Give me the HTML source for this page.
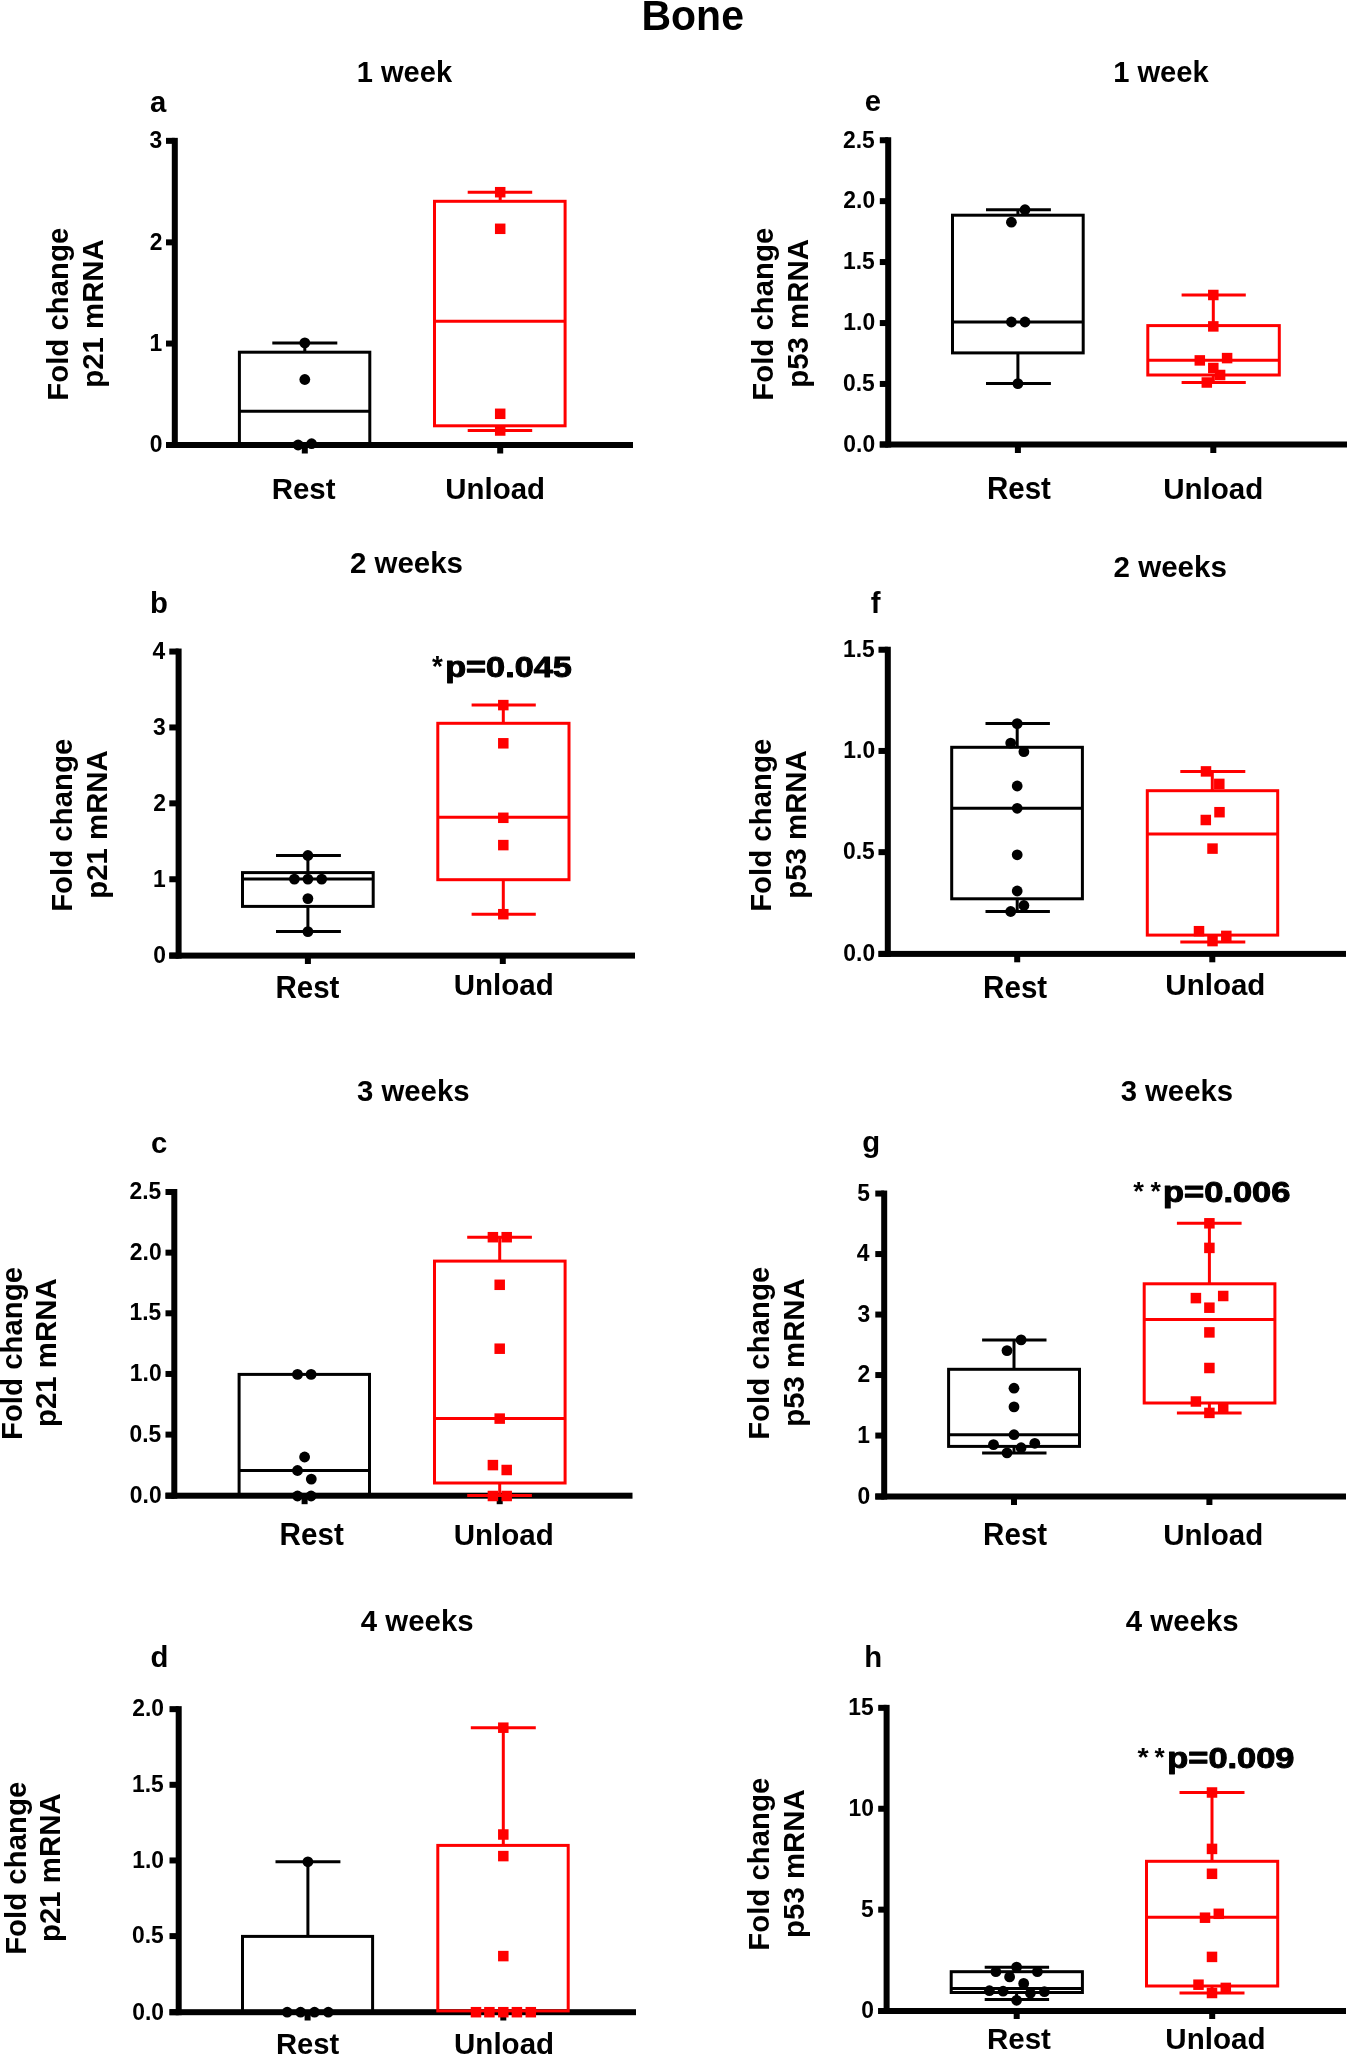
<!DOCTYPE html>
<html><head><meta charset="utf-8"><style>
html,body{margin:0;padding:0;background:#fff;overflow:hidden;}
svg{display:block;}
text{font-family:"Liberation Sans",sans-serif;font-weight:bold;font-kerning:none;}
</style></head><body>
<svg width="1347" height="2054" viewBox="0 0 1347 2054">
<rect width="1347" height="2054" fill="#fff"/>
<rect x="171.80" y="137.85" width="6.0" height="310.15" fill="#000"/>
<rect x="166.00" y="442.00" width="467.00" height="6.0" fill="#000"/>
<rect x="166.00" y="137.85" width="8.80" height="6.0" fill="#000"/>
<rect x="166.00" y="239.35" width="8.80" height="6.0" fill="#000"/>
<rect x="166.00" y="340.55" width="8.80" height="6.0" fill="#000"/>
<rect x="166.00" y="442.00" width="8.80" height="6.0" fill="#000"/>
<rect x="301.80" y="445.00" width="6.0" height="8.50" fill="#000"/>
<rect x="497.20" y="445.00" width="6.0" height="8.50" fill="#000"/>
<line x1="304.80" y1="352.20" x2="304.80" y2="342.90" stroke="#000" stroke-width="3.0" stroke-linecap="butt"/>
<line x1="272.30" y1="342.90" x2="337.30" y2="342.90" stroke="#000" stroke-width="3.0" stroke-linecap="butt"/>
<rect x="239.40" y="352.20" width="130.40" height="92.80" fill="none" stroke="#000" stroke-width="3.0"/>
<line x1="239.40" y1="411.20" x2="369.80" y2="411.20" stroke="#000" stroke-width="3.0" stroke-linecap="butt"/>
<circle cx="304.80" cy="342.90" r="5.4" fill="#000"/>
<circle cx="304.80" cy="379.50" r="5.4" fill="#000"/>
<circle cx="298.10" cy="445.00" r="5.4" fill="#000"/>
<circle cx="311.60" cy="443.70" r="5.4" fill="#000"/>
<line x1="500.20" y1="201.30" x2="500.20" y2="192.20" stroke="#ff0000" stroke-width="3.0" stroke-linecap="butt"/>
<line x1="467.70" y1="192.20" x2="532.20" y2="192.20" stroke="#ff0000" stroke-width="3.0" stroke-linecap="butt"/>
<line x1="500.20" y1="425.80" x2="500.20" y2="430.50" stroke="#ff0000" stroke-width="3.0" stroke-linecap="butt"/>
<line x1="467.70" y1="430.50" x2="532.20" y2="430.50" stroke="#ff0000" stroke-width="3.0" stroke-linecap="butt"/>
<rect x="434.50" y="201.30" width="130.60" height="224.50" fill="none" stroke="#ff0000" stroke-width="3.0"/>
<line x1="434.50" y1="321.30" x2="565.10" y2="321.30" stroke="#ff0000" stroke-width="3.0" stroke-linecap="butt"/>
<rect x="494.95" y="186.95" width="10.5" height="10.5" fill="#ff0000"/>
<rect x="494.95" y="223.55" width="10.5" height="10.5" fill="#ff0000"/>
<rect x="494.95" y="408.55" width="10.5" height="10.5" fill="#ff0000"/>
<rect x="494.95" y="425.25" width="10.5" height="10.5" fill="#ff0000"/>
<rect x="885.20" y="137.25" width="6.0" height="310.25" fill="#000"/>
<rect x="879.80" y="441.50" width="467.20" height="6.0" fill="#000"/>
<rect x="879.80" y="137.25" width="8.40" height="6.0" fill="#000"/>
<rect x="879.80" y="198.15" width="8.40" height="6.0" fill="#000"/>
<rect x="879.80" y="259.05" width="8.40" height="6.0" fill="#000"/>
<rect x="879.80" y="320.05" width="8.40" height="6.0" fill="#000"/>
<rect x="879.80" y="380.95" width="8.40" height="6.0" fill="#000"/>
<rect x="879.80" y="441.50" width="8.40" height="6.0" fill="#000"/>
<rect x="1014.90" y="444.50" width="6.0" height="8.50" fill="#000"/>
<rect x="1210.30" y="444.50" width="6.0" height="8.50" fill="#000"/>
<line x1="1017.90" y1="215.20" x2="1017.90" y2="209.70" stroke="#000" stroke-width="3.0" stroke-linecap="butt"/>
<line x1="986.00" y1="209.70" x2="1050.90" y2="209.70" stroke="#000" stroke-width="3.0" stroke-linecap="butt"/>
<line x1="1017.90" y1="352.90" x2="1017.90" y2="383.60" stroke="#000" stroke-width="3.0" stroke-linecap="butt"/>
<line x1="986.00" y1="383.60" x2="1050.90" y2="383.60" stroke="#000" stroke-width="3.0" stroke-linecap="butt"/>
<rect x="952.50" y="215.20" width="130.70" height="137.70" fill="none" stroke="#000" stroke-width="3.0"/>
<line x1="952.50" y1="322.00" x2="1083.20" y2="322.00" stroke="#000" stroke-width="3.0" stroke-linecap="butt"/>
<circle cx="1025.00" cy="209.70" r="5.4" fill="#000"/>
<circle cx="1011.40" cy="222.20" r="5.4" fill="#000"/>
<circle cx="1011.40" cy="322.00" r="5.4" fill="#000"/>
<circle cx="1025.00" cy="322.00" r="5.4" fill="#000"/>
<circle cx="1017.90" cy="383.60" r="5.4" fill="#000"/>
<line x1="1213.30" y1="325.60" x2="1213.30" y2="295.00" stroke="#ff0000" stroke-width="3.0" stroke-linecap="butt"/>
<line x1="1181.60" y1="295.00" x2="1245.80" y2="295.00" stroke="#ff0000" stroke-width="3.0" stroke-linecap="butt"/>
<line x1="1213.30" y1="375.00" x2="1213.30" y2="382.50" stroke="#ff0000" stroke-width="3.0" stroke-linecap="butt"/>
<line x1="1181.60" y1="382.50" x2="1245.80" y2="382.50" stroke="#ff0000" stroke-width="3.0" stroke-linecap="butt"/>
<rect x="1147.80" y="325.60" width="131.50" height="49.40" fill="none" stroke="#ff0000" stroke-width="3.0"/>
<line x1="1147.80" y1="360.20" x2="1279.30" y2="360.20" stroke="#ff0000" stroke-width="3.0" stroke-linecap="butt"/>
<rect x="1208.05" y="289.75" width="10.5" height="10.5" fill="#ff0000"/>
<rect x="1208.05" y="321.15" width="10.5" height="10.5" fill="#ff0000"/>
<rect x="1194.55" y="355.15" width="10.5" height="10.5" fill="#ff0000"/>
<rect x="1221.85" y="352.85" width="10.5" height="10.5" fill="#ff0000"/>
<rect x="1208.05" y="362.75" width="10.5" height="10.5" fill="#ff0000"/>
<rect x="1214.85" y="369.75" width="10.5" height="10.5" fill="#ff0000"/>
<rect x="1201.55" y="377.25" width="10.5" height="10.5" fill="#ff0000"/>
<rect x="175.60" y="648.55" width="6.0" height="310.05" fill="#000"/>
<rect x="169.30" y="952.60" width="465.70" height="6.0" fill="#000"/>
<rect x="169.30" y="648.55" width="9.30" height="6.0" fill="#000"/>
<rect x="169.30" y="724.45" width="9.30" height="6.0" fill="#000"/>
<rect x="169.30" y="800.35" width="9.30" height="6.0" fill="#000"/>
<rect x="169.30" y="876.25" width="9.30" height="6.0" fill="#000"/>
<rect x="169.30" y="952.60" width="9.30" height="6.0" fill="#000"/>
<rect x="304.90" y="955.60" width="6.0" height="8.40" fill="#000"/>
<rect x="499.80" y="955.60" width="6.0" height="8.40" fill="#000"/>
<line x1="307.90" y1="872.60" x2="307.90" y2="855.50" stroke="#000" stroke-width="3.0" stroke-linecap="butt"/>
<line x1="276.00" y1="855.50" x2="340.90" y2="855.50" stroke="#000" stroke-width="3.0" stroke-linecap="butt"/>
<line x1="307.90" y1="906.40" x2="307.90" y2="931.60" stroke="#000" stroke-width="3.0" stroke-linecap="butt"/>
<line x1="276.00" y1="931.60" x2="340.90" y2="931.60" stroke="#000" stroke-width="3.0" stroke-linecap="butt"/>
<rect x="242.50" y="872.60" width="130.70" height="33.80" fill="none" stroke="#000" stroke-width="3.0"/>
<line x1="242.50" y1="879.10" x2="373.20" y2="879.10" stroke="#000" stroke-width="3.0" stroke-linecap="butt"/>
<circle cx="307.90" cy="855.50" r="5.4" fill="#000"/>
<circle cx="294.40" cy="879.10" r="5.4" fill="#000"/>
<circle cx="307.90" cy="879.10" r="5.4" fill="#000"/>
<circle cx="321.70" cy="879.10" r="5.4" fill="#000"/>
<circle cx="307.90" cy="898.60" r="5.4" fill="#000"/>
<circle cx="307.90" cy="931.60" r="5.4" fill="#000"/>
<line x1="503.30" y1="723.30" x2="503.30" y2="705.10" stroke="#ff0000" stroke-width="3.0" stroke-linecap="butt"/>
<line x1="471.60" y1="705.10" x2="535.80" y2="705.10" stroke="#ff0000" stroke-width="3.0" stroke-linecap="butt"/>
<line x1="503.30" y1="879.70" x2="503.30" y2="914.20" stroke="#ff0000" stroke-width="3.0" stroke-linecap="butt"/>
<line x1="471.60" y1="914.20" x2="535.80" y2="914.20" stroke="#ff0000" stroke-width="3.0" stroke-linecap="butt"/>
<rect x="437.80" y="723.30" width="131.20" height="156.40" fill="none" stroke="#ff0000" stroke-width="3.0"/>
<line x1="437.80" y1="817.30" x2="569.00" y2="817.30" stroke="#ff0000" stroke-width="3.0" stroke-linecap="butt"/>
<rect x="498.05" y="699.85" width="10.5" height="10.5" fill="#ff0000"/>
<rect x="498.05" y="738.05" width="10.5" height="10.5" fill="#ff0000"/>
<rect x="498.05" y="812.55" width="10.5" height="10.5" fill="#ff0000"/>
<rect x="498.05" y="839.85" width="10.5" height="10.5" fill="#ff0000"/>
<rect x="498.05" y="908.95" width="10.5" height="10.5" fill="#ff0000"/>
<rect x="884.80" y="646.75" width="6.0" height="310.15" fill="#000"/>
<rect x="878.50" y="950.90" width="467.50" height="6.0" fill="#000"/>
<rect x="878.50" y="646.75" width="9.30" height="6.0" fill="#000"/>
<rect x="878.50" y="747.95" width="9.30" height="6.0" fill="#000"/>
<rect x="878.50" y="849.15" width="9.30" height="6.0" fill="#000"/>
<rect x="878.50" y="950.90" width="9.30" height="6.0" fill="#000"/>
<rect x="1014.20" y="953.90" width="6.0" height="8.40" fill="#000"/>
<rect x="1209.30" y="953.90" width="6.0" height="8.40" fill="#000"/>
<line x1="1017.20" y1="747.30" x2="1017.20" y2="723.60" stroke="#000" stroke-width="3.0" stroke-linecap="butt"/>
<line x1="985.50" y1="723.60" x2="1049.90" y2="723.60" stroke="#000" stroke-width="3.0" stroke-linecap="butt"/>
<line x1="1017.20" y1="898.80" x2="1017.20" y2="911.50" stroke="#000" stroke-width="3.0" stroke-linecap="butt"/>
<line x1="985.50" y1="911.50" x2="1049.90" y2="911.50" stroke="#000" stroke-width="3.0" stroke-linecap="butt"/>
<rect x="951.70" y="747.30" width="130.70" height="151.50" fill="none" stroke="#000" stroke-width="3.0"/>
<line x1="951.70" y1="808.30" x2="1082.40" y2="808.30" stroke="#000" stroke-width="3.0" stroke-linecap="butt"/>
<circle cx="1017.20" cy="723.60" r="5.4" fill="#000"/>
<circle cx="1010.70" cy="743.10" r="5.4" fill="#000"/>
<circle cx="1023.90" cy="751.70" r="5.4" fill="#000"/>
<circle cx="1017.20" cy="786.00" r="5.4" fill="#000"/>
<circle cx="1017.20" cy="808.30" r="5.4" fill="#000"/>
<circle cx="1017.20" cy="854.80" r="5.4" fill="#000"/>
<circle cx="1017.20" cy="891.00" r="5.4" fill="#000"/>
<circle cx="1023.90" cy="905.50" r="5.4" fill="#000"/>
<circle cx="1010.70" cy="911.50" r="5.4" fill="#000"/>
<line x1="1212.30" y1="790.70" x2="1212.30" y2="771.40" stroke="#ff0000" stroke-width="3.0" stroke-linecap="butt"/>
<line x1="1180.30" y1="771.40" x2="1245.30" y2="771.40" stroke="#ff0000" stroke-width="3.0" stroke-linecap="butt"/>
<line x1="1212.30" y1="935.10" x2="1212.30" y2="942.10" stroke="#ff0000" stroke-width="3.0" stroke-linecap="butt"/>
<line x1="1180.30" y1="942.10" x2="1245.30" y2="942.10" stroke="#ff0000" stroke-width="3.0" stroke-linecap="butt"/>
<rect x="1147.30" y="790.70" width="130.40" height="144.40" fill="none" stroke="#ff0000" stroke-width="3.0"/>
<line x1="1147.30" y1="834.10" x2="1277.70" y2="834.10" stroke="#ff0000" stroke-width="3.0" stroke-linecap="butt"/>
<rect x="1200.75" y="766.15" width="10.5" height="10.5" fill="#ff0000"/>
<rect x="1214.05" y="778.65" width="10.5" height="10.5" fill="#ff0000"/>
<rect x="1214.25" y="806.95" width="10.5" height="10.5" fill="#ff0000"/>
<rect x="1200.55" y="814.75" width="10.5" height="10.5" fill="#ff0000"/>
<rect x="1207.25" y="843.35" width="10.5" height="10.5" fill="#ff0000"/>
<rect x="1193.75" y="925.95" width="10.5" height="10.5" fill="#ff0000"/>
<rect x="1221.05" y="930.65" width="10.5" height="10.5" fill="#ff0000"/>
<rect x="1207.25" y="935.85" width="10.5" height="10.5" fill="#ff0000"/>
<rect x="171.30" y="1189.00" width="6.0" height="309.70" fill="#000"/>
<rect x="165.50" y="1492.70" width="467.00" height="6.0" fill="#000"/>
<rect x="165.50" y="1189.00" width="8.80" height="6.0" fill="#000"/>
<rect x="165.50" y="1249.65" width="8.80" height="6.0" fill="#000"/>
<rect x="165.50" y="1310.30" width="8.80" height="6.0" fill="#000"/>
<rect x="165.50" y="1370.95" width="8.80" height="6.0" fill="#000"/>
<rect x="165.50" y="1431.60" width="8.80" height="6.0" fill="#000"/>
<rect x="165.50" y="1492.70" width="8.80" height="6.0" fill="#000"/>
<rect x="301.60" y="1495.70" width="6.0" height="8.50" fill="#000"/>
<rect x="496.70" y="1495.70" width="6.0" height="8.50" fill="#000"/>
<rect x="239.10" y="1374.40" width="130.40" height="121.30" fill="none" stroke="#000" stroke-width="3.0"/>
<line x1="239.10" y1="1470.50" x2="369.50" y2="1470.50" stroke="#000" stroke-width="3.0" stroke-linecap="butt"/>
<circle cx="297.50" cy="1374.40" r="5.4" fill="#000"/>
<circle cx="311.10" cy="1374.40" r="5.4" fill="#000"/>
<circle cx="304.60" cy="1457.00" r="5.4" fill="#000"/>
<circle cx="297.50" cy="1470.50" r="5.4" fill="#000"/>
<circle cx="311.30" cy="1479.10" r="5.4" fill="#000"/>
<circle cx="297.50" cy="1496.00" r="5.4" fill="#000"/>
<circle cx="311.10" cy="1496.00" r="5.4" fill="#000"/>
<line x1="499.70" y1="1261.10" x2="499.70" y2="1237.20" stroke="#ff0000" stroke-width="3.0" stroke-linecap="butt"/>
<line x1="467.20" y1="1237.20" x2="531.90" y2="1237.20" stroke="#ff0000" stroke-width="3.0" stroke-linecap="butt"/>
<line x1="499.70" y1="1483.00" x2="499.70" y2="1495.50" stroke="#ff0000" stroke-width="3.0" stroke-linecap="butt"/>
<line x1="467.20" y1="1495.50" x2="531.90" y2="1495.50" stroke="#ff0000" stroke-width="3.0" stroke-linecap="butt"/>
<rect x="434.50" y="1261.10" width="130.60" height="221.90" fill="none" stroke="#ff0000" stroke-width="3.0"/>
<line x1="434.50" y1="1418.60" x2="565.10" y2="1418.60" stroke="#ff0000" stroke-width="3.0" stroke-linecap="butt"/>
<rect x="487.65" y="1231.95" width="10.5" height="10.5" fill="#ff0000"/>
<rect x="501.45" y="1231.95" width="10.5" height="10.5" fill="#ff0000"/>
<rect x="494.45" y="1279.55" width="10.5" height="10.5" fill="#ff0000"/>
<rect x="494.45" y="1343.45" width="10.5" height="10.5" fill="#ff0000"/>
<rect x="494.45" y="1413.35" width="10.5" height="10.5" fill="#ff0000"/>
<rect x="487.65" y="1459.85" width="10.5" height="10.5" fill="#ff0000"/>
<rect x="501.45" y="1464.75" width="10.5" height="10.5" fill="#ff0000"/>
<rect x="487.65" y="1490.75" width="10.5" height="10.5" fill="#ff0000"/>
<rect x="501.45" y="1490.75" width="10.5" height="10.5" fill="#ff0000"/>
<rect x="881.20" y="1190.55" width="6.0" height="308.95" fill="#000"/>
<rect x="875.30" y="1493.50" width="470.70" height="6.0" fill="#000"/>
<rect x="875.30" y="1190.55" width="8.90" height="6.0" fill="#000"/>
<rect x="875.30" y="1251.05" width="8.90" height="6.0" fill="#000"/>
<rect x="875.30" y="1311.55" width="8.90" height="6.0" fill="#000"/>
<rect x="875.30" y="1372.05" width="8.90" height="6.0" fill="#000"/>
<rect x="875.30" y="1432.55" width="8.90" height="6.0" fill="#000"/>
<rect x="875.30" y="1493.50" width="8.90" height="6.0" fill="#000"/>
<rect x="1011.00" y="1496.50" width="6.0" height="8.50" fill="#000"/>
<rect x="1206.40" y="1496.50" width="6.0" height="8.50" fill="#000"/>
<line x1="1014.00" y1="1369.30" x2="1014.00" y2="1339.90" stroke="#000" stroke-width="3.0" stroke-linecap="butt"/>
<line x1="982.10" y1="1339.90" x2="1046.50" y2="1339.90" stroke="#000" stroke-width="3.0" stroke-linecap="butt"/>
<line x1="1014.00" y1="1446.40" x2="1014.00" y2="1452.90" stroke="#000" stroke-width="3.0" stroke-linecap="butt"/>
<line x1="982.10" y1="1452.90" x2="1046.50" y2="1452.90" stroke="#000" stroke-width="3.0" stroke-linecap="butt"/>
<rect x="948.60" y="1369.30" width="130.90" height="77.10" fill="none" stroke="#000" stroke-width="3.0"/>
<line x1="948.60" y1="1434.70" x2="1079.50" y2="1434.70" stroke="#000" stroke-width="3.0" stroke-linecap="butt"/>
<circle cx="1021.10" cy="1339.90" r="5.4" fill="#000"/>
<circle cx="1007.00" cy="1350.60" r="5.4" fill="#000"/>
<circle cx="1014.00" cy="1388.20" r="5.4" fill="#000"/>
<circle cx="1014.00" cy="1406.90" r="5.4" fill="#000"/>
<circle cx="1014.00" cy="1434.70" r="5.4" fill="#000"/>
<circle cx="993.50" cy="1444.60" r="5.4" fill="#000"/>
<circle cx="1034.80" cy="1443.30" r="5.4" fill="#000"/>
<circle cx="1021.10" cy="1447.70" r="5.4" fill="#000"/>
<circle cx="1007.00" cy="1452.90" r="5.4" fill="#000"/>
<line x1="1209.40" y1="1283.80" x2="1209.40" y2="1223.30" stroke="#ff0000" stroke-width="3.0" stroke-linecap="butt"/>
<line x1="1176.90" y1="1223.30" x2="1241.60" y2="1223.30" stroke="#ff0000" stroke-width="3.0" stroke-linecap="butt"/>
<line x1="1209.40" y1="1403.00" x2="1209.40" y2="1412.90" stroke="#ff0000" stroke-width="3.0" stroke-linecap="butt"/>
<line x1="1176.90" y1="1412.90" x2="1241.60" y2="1412.90" stroke="#ff0000" stroke-width="3.0" stroke-linecap="butt"/>
<rect x="1144.20" y="1283.80" width="130.70" height="119.20" fill="none" stroke="#ff0000" stroke-width="3.0"/>
<line x1="1144.20" y1="1319.60" x2="1274.90" y2="1319.60" stroke="#ff0000" stroke-width="3.0" stroke-linecap="butt"/>
<rect x="1204.15" y="1218.05" width="10.5" height="10.5" fill="#ff0000"/>
<rect x="1204.15" y="1242.65" width="10.5" height="10.5" fill="#ff0000"/>
<rect x="1190.65" y="1292.85" width="10.5" height="10.5" fill="#ff0000"/>
<rect x="1217.95" y="1290.75" width="10.5" height="10.5" fill="#ff0000"/>
<rect x="1204.15" y="1302.45" width="10.5" height="10.5" fill="#ff0000"/>
<rect x="1204.15" y="1327.15" width="10.5" height="10.5" fill="#ff0000"/>
<rect x="1204.15" y="1362.75" width="10.5" height="10.5" fill="#ff0000"/>
<rect x="1190.65" y="1396.25" width="10.5" height="10.5" fill="#ff0000"/>
<rect x="1217.95" y="1402.75" width="10.5" height="10.5" fill="#ff0000"/>
<rect x="1204.15" y="1407.65" width="10.5" height="10.5" fill="#ff0000"/>
<rect x="175.70" y="1706.15" width="6.0" height="309.05" fill="#000"/>
<rect x="169.50" y="2009.20" width="466.50" height="6.0" fill="#000"/>
<rect x="169.50" y="1706.15" width="9.20" height="6.0" fill="#000"/>
<rect x="169.50" y="1781.80" width="9.20" height="6.0" fill="#000"/>
<rect x="169.50" y="1857.45" width="9.20" height="6.0" fill="#000"/>
<rect x="169.50" y="1933.10" width="9.20" height="6.0" fill="#000"/>
<rect x="169.50" y="2009.20" width="9.20" height="6.0" fill="#000"/>
<rect x="304.60" y="2012.20" width="6.0" height="8.30" fill="#000"/>
<rect x="500.30" y="2012.20" width="6.0" height="8.30" fill="#000"/>
<line x1="307.90" y1="1936.40" x2="307.90" y2="1861.80" stroke="#000" stroke-width="3.0" stroke-linecap="butt"/>
<line x1="275.50" y1="1861.80" x2="340.40" y2="1861.80" stroke="#000" stroke-width="3.0" stroke-linecap="butt"/>
<rect x="242.50" y="1936.40" width="130.10" height="75.80" fill="none" stroke="#000" stroke-width="3.0"/>
<circle cx="307.90" cy="1861.80" r="5.4" fill="#000"/>
<circle cx="287.20" cy="2012.20" r="5.4" fill="#000"/>
<circle cx="300.60" cy="2012.20" r="5.4" fill="#000"/>
<circle cx="314.50" cy="2012.20" r="5.4" fill="#000"/>
<circle cx="328.30" cy="2012.20" r="5.4" fill="#000"/>
<line x1="503.30" y1="1845.40" x2="503.30" y2="1727.70" stroke="#ff0000" stroke-width="3.0" stroke-linecap="butt"/>
<line x1="470.80" y1="1727.70" x2="535.80" y2="1727.70" stroke="#ff0000" stroke-width="3.0" stroke-linecap="butt"/>
<rect x="437.80" y="1845.40" width="130.40" height="165.50" fill="none" stroke="#ff0000" stroke-width="3.0"/>
<rect x="498.05" y="1722.45" width="10.5" height="10.5" fill="#ff0000"/>
<rect x="498.05" y="1829.25" width="10.5" height="10.5" fill="#ff0000"/>
<rect x="498.05" y="1850.85" width="10.5" height="10.5" fill="#ff0000"/>
<rect x="498.05" y="1950.85" width="10.5" height="10.5" fill="#ff0000"/>
<rect x="470.75" y="2006.95" width="10.5" height="10.5" fill="#ff0000"/>
<rect x="484.15" y="2006.95" width="10.5" height="10.5" fill="#ff0000"/>
<rect x="498.05" y="2006.95" width="10.5" height="10.5" fill="#ff0000"/>
<rect x="511.65" y="2006.95" width="10.5" height="10.5" fill="#ff0000"/>
<rect x="525.55" y="2006.95" width="10.5" height="10.5" fill="#ff0000"/>
<rect x="883.60" y="1704.85" width="6.0" height="309.15" fill="#000"/>
<rect x="878.20" y="2008.00" width="467.80" height="6.0" fill="#000"/>
<rect x="878.20" y="1704.85" width="8.40" height="6.0" fill="#000"/>
<rect x="878.20" y="1805.75" width="8.40" height="6.0" fill="#000"/>
<rect x="878.20" y="1906.65" width="8.40" height="6.0" fill="#000"/>
<rect x="878.20" y="2008.00" width="8.40" height="6.0" fill="#000"/>
<rect x="1013.70" y="2011.00" width="6.0" height="8.00" fill="#000"/>
<rect x="1209.20" y="2011.00" width="6.0" height="8.00" fill="#000"/>
<line x1="1016.60" y1="1971.70" x2="1016.60" y2="1967.30" stroke="#000" stroke-width="3.0" stroke-linecap="butt"/>
<line x1="984.70" y1="1967.30" x2="1049.10" y2="1967.30" stroke="#000" stroke-width="3.0" stroke-linecap="butt"/>
<line x1="1016.60" y1="1992.50" x2="1016.60" y2="1999.50" stroke="#000" stroke-width="3.0" stroke-linecap="butt"/>
<line x1="984.70" y1="1999.50" x2="1049.10" y2="1999.50" stroke="#000" stroke-width="3.0" stroke-linecap="butt"/>
<rect x="951.20" y="1971.70" width="131.20" height="20.80" fill="none" stroke="#000" stroke-width="3.0"/>
<line x1="951.20" y1="1988.60" x2="1082.40" y2="1988.60" stroke="#000" stroke-width="3.0" stroke-linecap="butt"/>
<circle cx="1016.60" cy="1967.10" r="5.4" fill="#000"/>
<circle cx="995.90" cy="1971.70" r="5.4" fill="#000"/>
<circle cx="1037.40" cy="1971.70" r="5.4" fill="#000"/>
<circle cx="1009.60" cy="1976.90" r="5.4" fill="#000"/>
<circle cx="1023.70" cy="1983.40" r="5.4" fill="#000"/>
<circle cx="989.40" cy="1990.70" r="5.4" fill="#000"/>
<circle cx="1003.10" cy="1991.20" r="5.4" fill="#000"/>
<circle cx="1030.40" cy="1993.30" r="5.4" fill="#000"/>
<circle cx="1044.40" cy="1991.70" r="5.4" fill="#000"/>
<circle cx="1016.60" cy="2000.30" r="5.4" fill="#000"/>
<line x1="1212.00" y1="1861.30" x2="1212.00" y2="1792.50" stroke="#ff0000" stroke-width="3.0" stroke-linecap="butt"/>
<line x1="1179.50" y1="1792.50" x2="1244.50" y2="1792.50" stroke="#ff0000" stroke-width="3.0" stroke-linecap="butt"/>
<line x1="1212.00" y1="1986.00" x2="1212.00" y2="1993.00" stroke="#ff0000" stroke-width="3.0" stroke-linecap="butt"/>
<line x1="1179.50" y1="1993.00" x2="1244.50" y2="1993.00" stroke="#ff0000" stroke-width="3.0" stroke-linecap="butt"/>
<rect x="1146.50" y="1861.30" width="131.20" height="124.70" fill="none" stroke="#ff0000" stroke-width="3.0"/>
<line x1="1146.50" y1="1917.20" x2="1277.70" y2="1917.20" stroke="#ff0000" stroke-width="3.0" stroke-linecap="butt"/>
<rect x="1206.75" y="1787.25" width="10.5" height="10.5" fill="#ff0000"/>
<rect x="1206.75" y="1843.65" width="10.5" height="10.5" fill="#ff0000"/>
<rect x="1206.75" y="1868.55" width="10.5" height="10.5" fill="#ff0000"/>
<rect x="1199.75" y="1912.45" width="10.5" height="10.5" fill="#ff0000"/>
<rect x="1213.55" y="1908.55" width="10.5" height="10.5" fill="#ff0000"/>
<rect x="1206.75" y="1951.65" width="10.5" height="10.5" fill="#ff0000"/>
<rect x="1193.25" y="1979.45" width="10.5" height="10.5" fill="#ff0000"/>
<rect x="1220.55" y="1982.65" width="10.5" height="10.5" fill="#ff0000"/>
<rect x="1206.75" y="1987.75" width="10.5" height="10.5" fill="#ff0000"/>
<defs><filter id="gs" x="0" y="0" width="100%" height="100%" filterUnits="userSpaceOnUse"><feColorMatrix type="saturate" values="0"/></filter></defs>
<g filter="url(#gs)">
<text transform="translate(641.56,29.68) scale(0.9585,1)" font-size="42.71" fill="#000">Bone</text>
<text transform="translate(356.77,81.91) scale(0.9924,1)" font-size="29.28" fill="#000">1 week</text>
<text transform="translate(150.08,111.64) scale(1.0000,1)" font-size="29.30" fill="#000">a</text>
<text transform="translate(68.04,400.75) scale(1.0000,1) rotate(-90)" font-size="29.40" fill="#000">Fold change</text>
<text transform="translate(102.76,387.81) scale(1.0000,1) rotate(-90)" font-size="29.40" fill="#000">p21 mRNA</text>
<text transform="translate(149.61,148.13) scale(0.9900,1)" font-size="23.10" fill="#000">3</text>
<text transform="translate(149.70,249.76) scale(0.9900,1)" font-size="23.10" fill="#000">2</text>
<text transform="translate(149.42,350.85) scale(0.9900,1)" font-size="23.10" fill="#000">1</text>
<text transform="translate(149.72,452.30) scale(0.9900,1)" font-size="23.10" fill="#000">0</text>
<text transform="translate(271.63,499.20) scale(0.9692,1)" font-size="30.38" fill="#000">Rest</text>
<text transform="translate(445.33,499.41) scale(0.9912,1)" font-size="29.69" fill="#000">Unload</text>
<text transform="translate(1113.16,81.92) scale(1.0002,1)" font-size="29.14" fill="#000">1 week</text>
<text transform="translate(864.78,111.24) scale(1.0000,1)" font-size="29.30" fill="#000">e</text>
<text transform="translate(773.44,400.75) scale(1.0000,1) rotate(-90)" font-size="29.40" fill="#000">Fold change</text>
<text transform="translate(808.01,387.71) scale(1.0000,1) rotate(-90)" font-size="29.40" fill="#000">p53 mRNA</text>
<text transform="translate(843.05,147.55) scale(0.9900,1)" font-size="23.10" fill="#000">2.5</text>
<text transform="translate(843.35,208.45) scale(0.9900,1)" font-size="23.10" fill="#000">2.0</text>
<text transform="translate(843.05,269.23) scale(0.9900,1)" font-size="23.10" fill="#000">1.5</text>
<text transform="translate(843.35,330.35) scale(0.9900,1)" font-size="23.10" fill="#000">1.0</text>
<text transform="translate(843.05,391.25) scale(0.9900,1)" font-size="23.10" fill="#000">0.5</text>
<text transform="translate(843.35,451.80) scale(0.9900,1)" font-size="23.10" fill="#000">0.0</text>
<text transform="translate(986.92,499.30) scale(0.9678,1)" font-size="30.53" fill="#000">Rest</text>
<text transform="translate(1163.13,499.31) scale(0.9953,1)" font-size="29.69" fill="#000">Unload</text>
<text transform="translate(349.88,572.61) scale(0.9980,1)" font-size="29.55" fill="#000">2 weeks</text>
<text transform="translate(150.04,612.62) scale(1.0000,1)" font-size="29.30" fill="#000">b</text>
<text transform="translate(72.39,911.85) scale(1.0000,1) rotate(-90)" font-size="29.40" fill="#000">Fold change</text>
<text transform="translate(106.81,898.81) scale(1.0000,1) rotate(-90)" font-size="29.40" fill="#000">p21 mRNA</text>
<text transform="translate(152.40,658.85) scale(0.9900,1)" font-size="23.10" fill="#000">4</text>
<text transform="translate(153.11,734.73) scale(0.9900,1)" font-size="23.10" fill="#000">3</text>
<text transform="translate(153.20,810.76) scale(0.9900,1)" font-size="23.10" fill="#000">2</text>
<text transform="translate(152.92,886.55) scale(0.9900,1)" font-size="23.10" fill="#000">1</text>
<text transform="translate(153.22,962.90) scale(0.9900,1)" font-size="23.10" fill="#000">0</text>
<text transform="translate(275.42,998.10) scale(0.9544,1)" font-size="30.96" fill="#000">Rest</text>
<text transform="translate(453.73,995.42) scale(1.0176,1)" font-size="29.00" fill="#000">Unload</text>
<text transform="translate(431.92,676.19) scale(0.9658,1)" font-size="28.76" fill="#000">*</text>
<text transform="translate(445.14,676.97) scale(1.1803,1)" font-size="29.04" fill="#000" stroke="#000" stroke-width="1.0" stroke-linejoin="round">p=0.045</text>
<text transform="translate(1113.58,576.81) scale(0.9998,1)" font-size="29.55" fill="#000">2 weeks</text>
<text transform="translate(870.84,612.77) scale(1.0000,1)" font-size="29.30" fill="#000">f</text>
<text transform="translate(771.19,911.85) scale(1.0000,1) rotate(-90)" font-size="29.40" fill="#000">Fold change</text>
<text transform="translate(805.76,898.81) scale(1.0000,1) rotate(-90)" font-size="29.40" fill="#000">p53 mRNA</text>
<text transform="translate(843.05,656.93) scale(0.9900,1)" font-size="23.10" fill="#000">1.5</text>
<text transform="translate(843.35,758.25) scale(0.9900,1)" font-size="23.10" fill="#000">1.0</text>
<text transform="translate(843.05,859.45) scale(0.9900,1)" font-size="23.10" fill="#000">0.5</text>
<text transform="translate(843.35,961.20) scale(0.9900,1)" font-size="23.10" fill="#000">0.0</text>
<text transform="translate(983.12,998.10) scale(0.9544,1)" font-size="30.96" fill="#000">Rest</text>
<text transform="translate(1165.33,995.42) scale(1.0187,1)" font-size="29.00" fill="#000">Unload</text>
<text transform="translate(356.93,1100.57) scale(0.9960,1)" font-size="29.49" fill="#000">3 weeks</text>
<text transform="translate(151.01,1153.19) scale(1.0000,1)" font-size="29.30" fill="#000">c</text>
<text transform="translate(21.54,1440.05) scale(1.0000,1) rotate(-90)" font-size="29.40" fill="#000">Fold change</text>
<text transform="translate(56.21,1427.01) scale(1.0000,1) rotate(-90)" font-size="29.40" fill="#000">p21 mRNA</text>
<text transform="translate(129.55,1199.30) scale(0.9900,1)" font-size="23.10" fill="#000">2.5</text>
<text transform="translate(129.85,1259.95) scale(0.9900,1)" font-size="23.10" fill="#000">2.0</text>
<text transform="translate(129.55,1320.48) scale(0.9900,1)" font-size="23.10" fill="#000">1.5</text>
<text transform="translate(129.85,1381.25) scale(0.9900,1)" font-size="23.10" fill="#000">1.0</text>
<text transform="translate(129.55,1441.90) scale(0.9900,1)" font-size="23.10" fill="#000">0.5</text>
<text transform="translate(129.85,1503.00) scale(0.9900,1)" font-size="23.10" fill="#000">0.0</text>
<text transform="translate(279.62,1545.10) scale(0.9575,1)" font-size="30.96" fill="#000">Rest</text>
<text transform="translate(453.73,1544.72) scale(1.0129,1)" font-size="29.14" fill="#000">Unload</text>
<text transform="translate(1120.63,1101.17) scale(1.0081,1)" font-size="29.08" fill="#000">3 weeks</text>
<text transform="translate(862.33,1152.24) scale(1.0000,1)" font-size="29.30" fill="#000">g</text>
<text transform="translate(768.94,1439.85) scale(1.0000,1) rotate(-90)" font-size="29.40" fill="#000">Fold change</text>
<text transform="translate(803.66,1426.81) scale(1.0000,1) rotate(-90)" font-size="29.40" fill="#000">p53 mRNA</text>
<text transform="translate(857.22,1200.73) scale(0.9900,1)" font-size="23.10" fill="#000">5</text>
<text transform="translate(856.70,1261.35) scale(0.9900,1)" font-size="23.10" fill="#000">4</text>
<text transform="translate(857.41,1321.83) scale(0.9900,1)" font-size="23.10" fill="#000">3</text>
<text transform="translate(857.50,1382.46) scale(0.9900,1)" font-size="23.10" fill="#000">2</text>
<text transform="translate(857.22,1442.85) scale(0.9900,1)" font-size="23.10" fill="#000">1</text>
<text transform="translate(857.52,1503.80) scale(0.9900,1)" font-size="23.10" fill="#000">0</text>
<text transform="translate(983.12,1545.10) scale(0.9544,1)" font-size="30.96" fill="#000">Rest</text>
<text transform="translate(1163.13,1544.72) scale(1.0139,1)" font-size="29.14" fill="#000">Unload</text>
<text transform="translate(1133.32,1199.55) scale(1.0664,1)" font-size="25.80" fill="#000">*</text>
<text transform="translate(1150.42,1199.55) scale(1.0362,1)" font-size="25.80" fill="#000">*</text>
<text transform="translate(1163.03,1201.62) scale(1.1960,1)" font-size="28.82" fill="#000" stroke="#000" stroke-width="1.0" stroke-linejoin="round">p=0.006</text>
<text transform="translate(360.86,1631.22) scale(1.0085,1)" font-size="29.14" fill="#000">4 weeks</text>
<text transform="translate(150.62,1667.27) scale(1.0000,1)" font-size="29.30" fill="#000">d</text>
<text transform="translate(25.79,1954.85) scale(1.0000,1) rotate(-90)" font-size="29.40" fill="#000">Fold change</text>
<text transform="translate(60.41,1942.01) scale(1.0000,1) rotate(-90)" font-size="29.40" fill="#000">p21 mRNA</text>
<text transform="translate(132.25,1716.45) scale(0.9900,1)" font-size="23.10" fill="#000">2.0</text>
<text transform="translate(131.95,1791.98) scale(0.9900,1)" font-size="23.10" fill="#000">1.5</text>
<text transform="translate(132.25,1867.75) scale(0.9900,1)" font-size="23.10" fill="#000">1.0</text>
<text transform="translate(131.95,1943.40) scale(0.9900,1)" font-size="23.10" fill="#000">0.5</text>
<text transform="translate(132.25,2019.50) scale(0.9900,1)" font-size="23.10" fill="#000">0.0</text>
<text transform="translate(275.95,2054.10) scale(0.9614,1)" font-size="30.38" fill="#000">Rest</text>
<text transform="translate(454.03,2053.71) scale(1.0045,1)" font-size="29.41" fill="#000">Unload</text>
<text transform="translate(1125.86,1631.22) scale(1.0085,1)" font-size="29.14" fill="#000">4 weeks</text>
<text transform="translate(864.19,1666.77) scale(1.0000,1)" font-size="29.30" fill="#000">h</text>
<text transform="translate(768.94,1950.75) scale(1.0000,1) rotate(-90)" font-size="29.40" fill="#000">Fold change</text>
<text transform="translate(803.66,1937.91) scale(1.0000,1) rotate(-90)" font-size="29.40" fill="#000">p53 mRNA</text>
<text transform="translate(848.20,1715.03) scale(0.9900,1)" font-size="23.10" fill="#000">15</text>
<text transform="translate(848.50,1816.05) scale(0.9900,1)" font-size="23.10" fill="#000">10</text>
<text transform="translate(860.92,1916.83) scale(0.9900,1)" font-size="23.10" fill="#000">5</text>
<text transform="translate(861.22,2018.30) scale(0.9900,1)" font-size="23.10" fill="#000">0</text>
<text transform="translate(986.92,2049.30) scale(0.9770,1)" font-size="30.24" fill="#000">Rest</text>
<text transform="translate(1165.33,2049.31) scale(0.9953,1)" font-size="29.69" fill="#000">Unload</text>
<text transform="translate(1137.62,1765.94) scale(1.1052,1)" font-size="26.07" fill="#000">*</text>
<text transform="translate(1154.62,1765.94) scale(1.0056,1)" font-size="26.07" fill="#000">*</text>
<text transform="translate(1167.33,1767.85) scale(1.1798,1)" font-size="29.15" fill="#000" stroke="#000" stroke-width="1.0" stroke-linejoin="round">p=0.009</text>
</g>
</svg>
</body></html>
